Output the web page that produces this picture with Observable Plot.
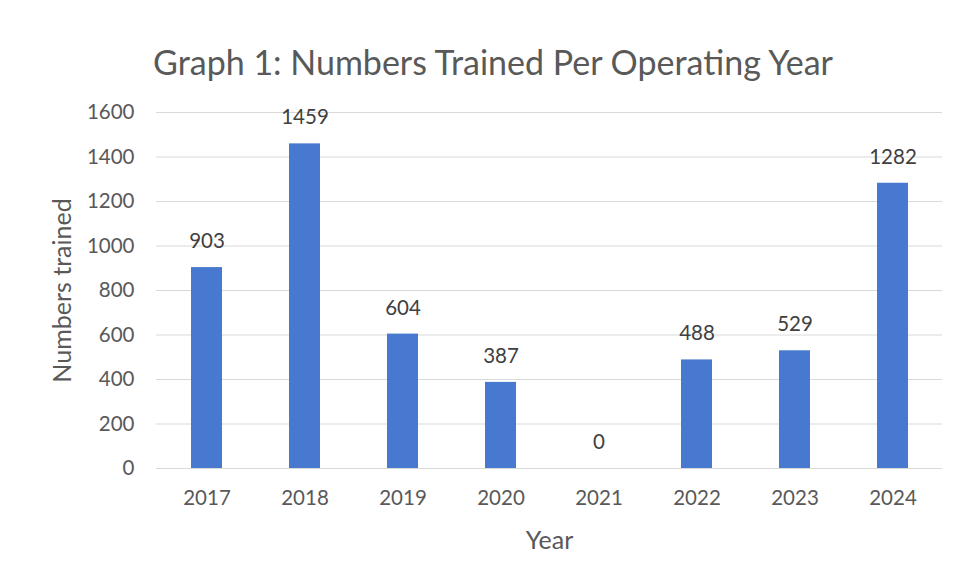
<!DOCTYPE html>
<html>
<head>
<meta charset="utf-8">
<script src="https://cdn.jsdelivr.net/npm/d3@7"></script>
<script src="https://cdn.jsdelivr.net/npm/@observablehq/plot@0.6"></script>
<style>
  body { margin: 0; background: #fff; font-family: Lato, "Open Sans", sans-serif; }
  #title { height: 95px; box-sizing: border-box; padding-top: 38px; text-align: center; font-size: 34px; color: #595959; line-height: 48px; padding-left: 28px; }
</style>
</head>
<body>
<div id="title">Graph 1: Numbers Trained Per Operating Year</div>
<div id="chart"></div>
<script>
const years = ["2017", "2018", "2019", "2020", "2021", "2022", "2023", "2024"];
const trained = [903, 1459, 604, 387, 0, 488, 529, 1282];
const yTicks = [0, 200, 400, 600, 800, 1000, 1200, 1400, 1600];

const data = years.map((y, i) => ({year: y, value: trained[i]}));

const chart = Plot.plot({
  width: 958,
  height: 485,
  marginLeft: 156,
  marginRight: 16,
  marginTop: 17,
  marginBottom: 112,
  style: {fontFamily: "Lato, 'Open Sans', sans-serif", fontSize: "20px", color: "#595959", background: "#fff"},
  x: {domain: years, paddingInner: 0.685, paddingOuter: 0.3425, align: 0.5, label: null},
  y: {domain: [0, 1600], label: null},
  marks: [
    Plot.gridY(yTicks, {stroke: "#d9d9d9", strokeOpacity: 1}),
    Plot.barY(data, {x: "year", y: "value", fill: "#4679cf"}),
    Plot.text(data, {x: "year", y: "value", text: d => String(d.value), dy: -26, fill: "#404040", fontSize: 20.5}),
    Plot.axisX({tickSize: 0, tickPadding: 22, fontSize: 20.5, label: null}),
    Plot.axisY({ticks: yTicks, tickFormat: d3.format("d"), tickSize: 0, tickPadding: 22, fontSize: 20.5, label: null}),
    Plot.text(["Year"], {frameAnchor: "bottom", dy: 72, fontSize: 25, fill: "#595959", lineAnchor: "middle"}),
    Plot.text(["Numbers trained"], {frameAnchor: "left", dx: -94, rotate: -90, textAnchor: "middle", lineAnchor: "middle", fontSize: 25, fill: "#595959"})
  ]
});
document.getElementById("chart").appendChild(chart);
</script>
</body>
</html>
